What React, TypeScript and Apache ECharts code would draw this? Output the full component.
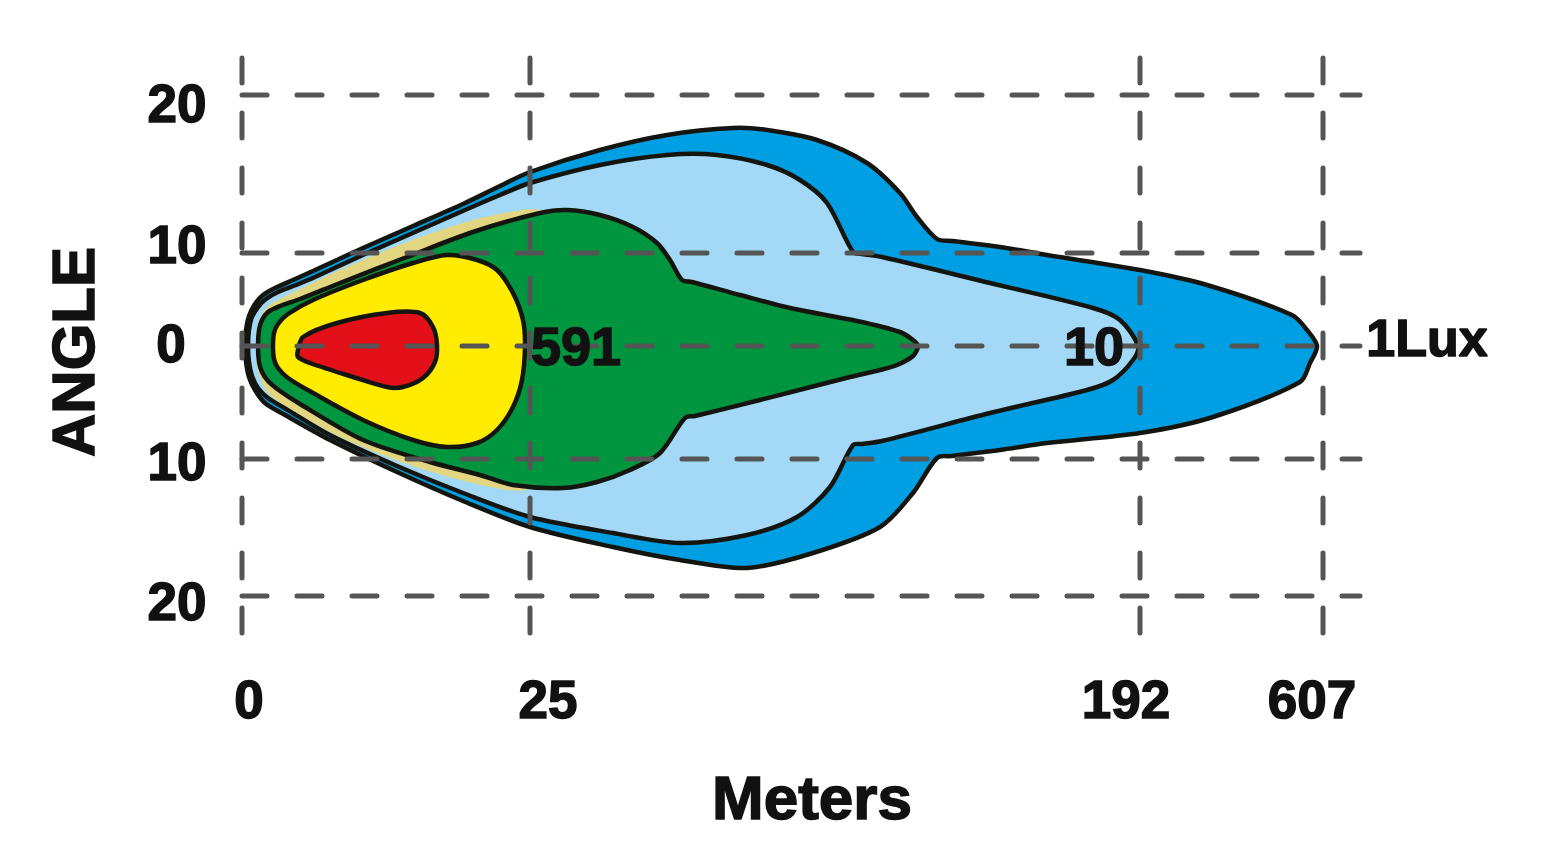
import React, { useEffect, useRef } from "react";
import * as echarts from "echarts";

// Diagram units: x = distance position along the beam (0 at the lamp), y = angle position (0 on the axis)
const xTickLabels = ["0", "25", "192", "607"];
const xTickPos = [0, 288, 898, 1081];
const yTickLabels = ["20", "10", "0", "10", "20"];
const yTickPos = [251, 93, 0, -113, -250];

const lux1Contour = [
  [3, 0], [4, 16], [7, 30], [13, 42], [21, 51], [33, 58], [51, 66], [71, 75], [121, 98], [171, 120],
  [221, 142], [258, 160], [288, 174], [358, 196], [425, 211], [491, 218], [525, 216], [575, 206],
  [625, 183], [658, 153], [675, 129], [695, 107], [710, 105], [758, 99], [805, 91], [898, 76],
  [965, 61], [1050, 31], [1065, 16], [1075, 0], [1068, -17], [1058, -36], [971, -71], [898, -87],
  [805, -97], [758, -104], [710, -110], [695, -112], [671, -147], [638, -181], [571, -207],
  [505, -222], [438, -214], [371, -201], [288, -181], [221, -155], [155, -126], [88, -94],
  [43, -69], [23, -57], [13, -44], [7, -31], [4, -16],
];
const lux10Contour = [
  [6, 0], [7, 16], [10, 29], [16, 39], [24, 47], [36, 54], [54, 61], [73, 69], [123, 92], [173, 114],
  [223, 136], [258, 151], [288, 163], [358, 181], [425, 191], [475, 191], [525, 181], [558, 166],
  [585, 143], [611, 94], [620, 92], [640, 89], [748, 63], [851, 38], [878, 26], [896, 0], [891, -14],
  [871, -34], [845, -44], [748, -67], [640, -95], [620, -98], [611, -99], [588, -141], [555, -171],
  [505, -189], [438, -197], [371, -187], [288, -171], [221, -147], [155, -120], [88, -89],
  [46, -64], [26, -52], [16, -42], [10, -30], [7, -16],
];
const khakiContour = [
  [14, 0], [15, 18], [19, 30], [26, 40], [38, 47], [98, 76], [165, 104], [231, 126], [268, 134],
  [298, 136], [330, 120], [330, -120], [283, -144], [231, -137], [165, -118], [98, -91], [42, -59],
  [26, -47], [19, -34], [15, -20],
];
const greenContour = [
  [16, 0], [17, 16], [20, 26], [26, 34], [38, 40], [58, 47], [98, 63], [165, 89], [231, 114],
  [298, 133], [325, 136], [358, 131], [391, 119], [415, 103], [428, 86], [440, 66], [450, 64],
  [498, 51], [548, 38], [615, 25], [658, 14], [671, 6], [676, 0], [671, -10], [655, -19],
  [638, -24], [608, -31], [518, -54], [453, -70], [443, -72], [418, -107], [388, -124],
  [355, -136], [321, -142], [271, -139], [238, -129], [188, -116], [121, -94], [58, -58],
  [38, -45], [26, -35], [20, -26], [17, -16],
];
const yellowContour = [
  [31, 0], [32, 13], [36, 22], [46, 32], [71, 46], [121, 66], [171, 83], [205, 91], [235, 86],
  [255, 76], [271, 53], [281, 26], [283, 0], [280, -34], [271, -61], [255, -84], [235, -97],
  [205, -101], [171, -94], [121, -74], [71, -47], [46, -32], [36, -22], [32, -13],
];
const redContour = [
  [56, -4], [61, 9], [95, 23], [145, 33], [178, 33], [191, 19], [195, 1], [193, -16], [181, -32],
  [161, -41], [145, -41], [111, -31], [68, -17], [56, -11],
];

const contourLabels = ["591", "10", "1Lux"];

const fills = ["#009FE3", "#A3D9F6", "#E3D680", "#00963F", "#FFEC00", "#E30F19"];
const strokes = [true, true, false, true, true, true];
const contours = [lux1Contour, lux10Contour, khakiContour, greenContour, yellowContour, redContour];

export default function App() {
  const ref = useRef<HTMLDivElement>(null);
  useEffect(() => {
    if (!ref.current) return;
    const chart = echarts.init(ref.current, undefined, { renderer: "svg" });
    const gridTop = 288;
    const gridBottom = -292;
    const gridRight = 1118;
    const gridStyle = { color: "#555555", width: 5, type: [25, 30] as any, cap: "round" as any };
    const vLines = xTickPos.map((x, i) => ({
      type: "line",
      name: "v" + i,
      data: [[x, gridTop], [x, gridBottom]],
      symbol: "none",
      silent: true,
      z: 5,
      lineStyle: gridStyle,
    }));
    const hLines = yTickPos.map((y, i) => ({
      type: "line",
      name: "h" + i,
      data: [[0, y], [gridRight, y]],
      symbol: "none",
      silent: true,
      z: 5,
      lineStyle: gridStyle,
    }));
    const font = (s: number) => `bold ${s}px "Liberation Sans", Arial, sans-serif`;
    const txt = (text: string, x: number, y: number, size: number, extra: any = {}) => ({
      type: "text",
      x,
      y,
      z: 100,
      ...extra,
      style: {
        text,
        font: font(size),
        fill: "#111111",
        stroke: "#111111",
        lineWidth: 1.5,
        textAlign: "center",
        textVerticalAlign: "middle",
        align: "center",
        verticalAlign: "middle",
      },
    });
    const yLabelX = [177, 177, 171, 177, 177];
    const yLabelY = [103, 244, 343, 461, 601];
    const xLabelX = [249, 548, 1126, 1312];
    const graphic: any[] = [
      ...yTickLabels.map((t, i) => txt(t, yLabelX[i], yLabelY[i], 53)),
      ...xTickLabels.map((t, i) => txt(t, xLabelX[i], 699, 53)),
      txt("Meters", 812, 797, 62),
      txt("ANGLE", 73, 352, 60, { rotation: Math.PI / 2 }),
      txt(contourLabels[0], 576, 346, 54),
      txt(contourLabels[1], 1094, 346, 54),
      txt(contourLabels[2], 1427, 338, 52),
    ];
    chart.setOption({
      animation: false,
      grid: { left: 0, top: 0, right: 0, bottom: 0 },
      xAxis: { type: "value", min: -242, max: 1310, show: false },
      yAxis: { type: "value", min: -516, max: 346, show: false },
      series: [
        {
          type: "custom",
          silent: true,
          z: 2,
          data: contours.map((_, i) => [i]),
          renderItem: (params: any, api: any) => {
            const i = params.dataIndex;
            const pts = contours[i].map((p) => api.coord(p));
            return {
              type: "polygon",
              shape: { points: pts, smooth: 0.3 },
              style: {
                fill: fills[i],
                stroke: strokes[i] ? "#15150f" : null,
                lineWidth: strokes[i] ? 4.5 : 0,
                lineJoin: "round",
              },
            };
          },
        },
        ...vLines,
        ...hLines,
      ],
      graphic,
    });
    return () => chart.dispose();
  }, []);
  return (
    <div
      ref={ref}
      style={{ position: "absolute", left: 0, top: 0, width: 1552, height: 862, background: "#fff" }}
    />
  );
}
